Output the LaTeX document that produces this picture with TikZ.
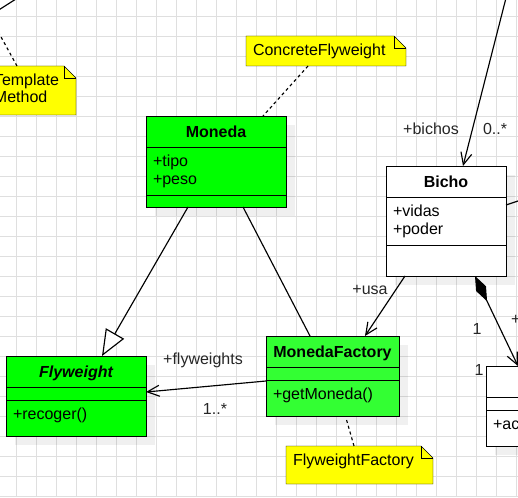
\documentclass[tikz,border=0pt]{standalone}
\usepackage{fontspec}
\setmainfont{Liberation Sans}
\usetikzlibrary{positioning,arrows.meta,calc}
\pgfdeclarelayer{bg}
\pgfsetlayers{bg,main}
\definecolor{flyGreen}{HTML}{00FF00}
\definecolor{factoryGreen}{HTML}{33FF33}
\definecolor{noteYellow}{HTML}{FFFF00}
% yellow note with a folded corner, drawn under its text node
\newcommand\notefold[1]{%
  \begin{pgfonlayer}{bg}
    \draw[notebody] (#1.south west) -- (#1.north west) -- ([xshift=-12pt]#1.north east)
      -- ([yshift=-12pt]#1.north east) -- (#1.south east) -- cycle;
    \draw[notebody, fill=none] ([xshift=-12pt]#1.north east)
      -- ([xshift=-12pt,yshift=-12pt]#1.north east) -- ([yshift=-12pt]#1.north east);
  \end{pgfonlayer}}
% soft shadow behind a class box
\newcommand\boxshadow[2]{%
  \begin{pgfonlayer}{bg}
    \fill[shadowfill] ([xshift=9pt,yshift=-9pt]#1.north west) rectangle ([xshift=9pt,yshift=-9pt]#2.south east);
  \end{pgfonlayer}}
\begin{document}
\fontsize{16}{18}\selectfont
\begin{tikzpicture}[x=1pt, y=-1pt, line width=1pt,
    gridline/.style={draw=gray!25, line width=0.8pt},
    classbox/.style={draw, outer sep=0pt, text=black},
    hdr/.style={classbox, anchor=north west, inner sep=0pt,
      minimum height=31pt, text height=11.5pt, text depth=0pt, font=\bfseries},
    members/.style={classbox, inner xsep=7pt, inner ysep=4pt,
      text height=15.5pt, align=left},
    blankpart/.style={classbox, inner sep=0pt},
    notetext/.style={anchor=north west, outer sep=0pt, inner xsep=7pt,
      inner ysep=4pt, text height=15.5pt, align=left},
    notebody/.style={draw, fill=noteYellow},
    shadowfill/.style={fill=black, opacity=0.06},
    link/.style={line width=1.15pt},
    openarrow/.style={link, -{Straight Barb[length=12pt,width=11pt]}},
    rolelabel/.style={text=black!85, inner sep=0pt},
    dashedlink/.style={link, dash pattern=on 3pt off 3pt}]
\useasboundingbox (0,0) rectangle (518,497);
\begin{pgfonlayer}{bg}
  \fill[white] (0,0) rectangle (518,497);
  \foreach \g in {16,36,...,516} {
    \draw[gridline] (\g,0) -- (\g,497);
    \draw[gridline] (0,\g) -- (518,\g);
  }
\end{pgfonlayer}

% classes
\node[hdr, fill=flyGreen, minimum width=140pt] (moneda) at (146,116) {Moneda};
\node[members, fill=flyGreen, text width=126pt, text depth=24.5pt, below=0pt of moneda] (moneda-attr) {+tipo\\+peso};
\node[blankpart, fill=flyGreen, minimum width=140pt, minimum height=12pt, below=0pt of moneda-attr] (moneda-ops) {};
\boxshadow{moneda}{moneda-ops}

\node[hdr, fill=flyGreen, minimum width=140pt, font=\bfseries\itshape] (flyweight) at (6,356) {Flyweight};
\node[blankpart, fill=flyGreen, minimum width=140pt, minimum height=13pt, below=0pt of flyweight] (flyweight-attr) {};
\node[members, fill=flyGreen, text width=126pt, text depth=12.5pt, below=0pt of flyweight-attr] (flyweight-ops) {+recoger()};
\boxshadow{flyweight}{flyweight-ops}

\node[hdr, fill=factoryGreen, minimum width=133pt] (factory) at (266,336) {MonedaFactory};
\node[blankpart, fill=factoryGreen, minimum width=133pt, minimum height=13pt, below=0pt of factory] (factory-attr) {};
\node[members, fill=factoryGreen, text width=119pt, text depth=12.5pt, below=0pt of factory-attr] (factory-ops) {+getMoneda()};
\boxshadow{factory}{factory-ops}

\node[hdr, fill=white, minimum width=120pt] (bicho) at (386,166) {Bicho};
\node[members, fill=white, text width=106pt, text depth=24.5pt, below=0pt of bicho] (bicho-attr) {+vidas\\+poder};
\node[blankpart, fill=white, minimum width=120pt, minimum height=31pt, below=0pt of bicho-attr] (bicho-ops) {};
\boxshadow{bicho}{bicho-ops}

\node[hdr, fill=white, minimum width=140pt] (rclass) at (486,366) {};
\node[blankpart, fill=white, minimum width=140pt, minimum height=13pt, below=0pt of rclass] (rclass-attr) {};
\node[members, fill=white, text width=126pt, text depth=12.5pt, below=0pt of rclass-attr] (rclass-ops) {+ac};
\boxshadow{rclass}{rclass-ops}

% notes
\node[notetext, text width=75pt, text depth=25.5pt] (tmnote) at (-13,66) {Template\\[-1pt]Method};
\notefold{tmnote}
\node[notetext, text width=146pt, text depth=6.5pt] (cfnote) at (246,36) {ConcreteFlyweight};
\notefold{cfnote}
\node[notetext, text width=133pt, text depth=14.5pt] (ffnote) at (286,446) {FlyweightFactory};
\notefold{ffnote}

% free ends of connectors leaving the picture
\coordinate (tm-end) at (-5,26);
\coordinate (tl-a) at (-6,13);
\coordinate (tl-b) at (16,-1);
\coordinate (bichos-src) at (506,-2);
\coordinate (bicho-out) at (530,197);

% connectors
\draw[link, -{Triangle[length=26pt,width=21pt,fill=white]}] ($(moneda-ops.south west)+(42,0)$) -- ($(flyweight.north west)+(96,0)$);
\draw[link] ($(moneda-ops.south west)+(97,0)$) -- ($(factory.north west)+(44,0)$);
\draw[openarrow] ($(factory-ops.north west)+(0,1)$) -- ($(flyweight-attr.north east)+(0,5)$);
\draw[openarrow] ($(bicho-ops.south west)+(19,0)$) -- ($(factory.north west)+(99,0)$);
\draw[openarrow] (bichos-src) -- ($(bicho.north west)+(77,0)$);
\draw[link, {Diamond[length=28pt,width=11pt]}-{Straight Barb[length=12pt,width=11pt]}] ($(bicho-ops.south west)+(89,0)$) -- ($(rclass.north west)+(32,0)$);
\draw[link] ($(bicho-attr.north east)+(0,8)$) -- (bicho-out);
\draw[link] (tl-a) -- (tl-b);
\draw[dashedlink] ($(tmnote.north west)+(30,0)$) -- (tm-end);
\draw[dashedlink] ($(cfnote.south west)+(62,0)$) -- ($(moneda.north west)+(117,0)$);
\draw[dashedlink] ($(ffnote.north west)+(68,0)$) -- ($(factory-ops.south west)+(80,2)$);

% role names and multiplicities
\node[rolelabel] (lbl-flyweights) at (203,360) {+flyweights};
\node[rolelabel] (lbl-many) at (215,409) {1..*};
\node[rolelabel] (lbl-usa) at (370,290) {+usa};
\node[rolelabel] (lbl-bichos) at (431,129) {+bichos};
\node[rolelabel] (lbl-zero) at (495,129) {0..*};
\node[rolelabel] (lbl-one-a) at (477,329) {1};
\node[rolelabel] (lbl-one-b) at (479,370) {1};
\node[rolelabel, anchor=west] (lbl-cut) at (511,320) {+};
\end{tikzpicture}
\end{document}
